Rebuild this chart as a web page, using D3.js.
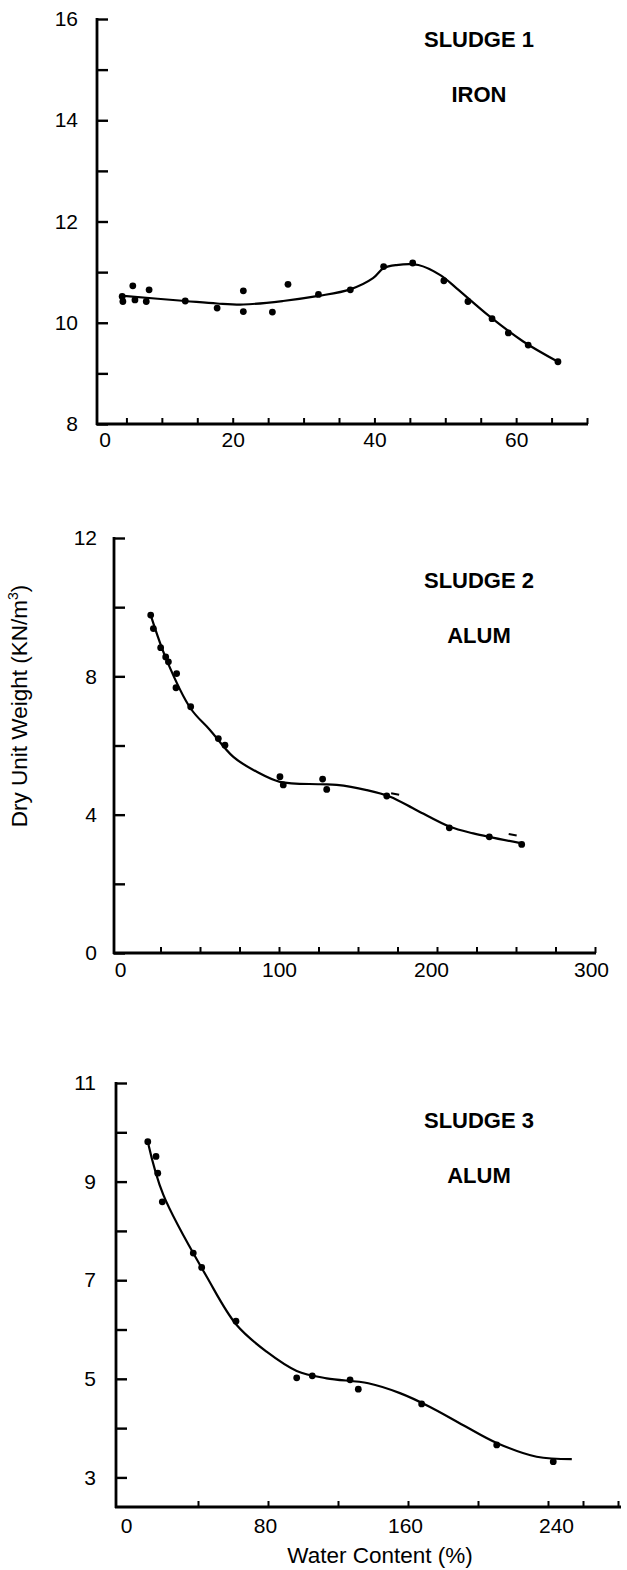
<!DOCTYPE html>
<html><head><meta charset="utf-8">
<script src="https://cdn.jsdelivr.net/npm/d3@7"></script>
<style>
body{margin:0;background:#fff}
svg{display:block}
text{font-family:"Liberation Sans",Arial,sans-serif;fill:#000}
</style></head><body>
<svg id="c" width="627" height="1570"></svg>
<script>
// ---------- SLUDGE 1 (IRON) ----------
const s1PointsX = [4.4, 4.5, 5.9, 6.2, 7.8, 8.2, 13.3, 17.8, 21.5, 21.5, 25.6, 27.8, 32.1, 36.6, 41.3, 45.4, 49.8, 53.2, 56.6, 58.9, 61.7, 65.9];
const s1PointsY = [10.52, 10.42, 10.73, 10.45, 10.42, 10.65, 10.43, 10.29, 10.63, 10.22, 10.21, 10.76, 10.56, 10.65, 11.11, 11.18, 10.83, 10.42, 10.08, 9.80, 9.56, 9.23];
const s1CurveX = [4.6, 13.3, 17.8, 21.5, 27.1, 32.1, 36.6, 39.8, 41.3, 43.1, 46.2, 49.3, 51.6, 56.3, 61.0, 65.9];
const s1CurveY = [10.53, 10.43, 10.38, 10.36, 10.43, 10.53, 10.66, 10.88, 11.08, 11.14, 11.14, 10.94, 10.68, 10.12, 9.63, 9.23];
const s1YTicks = [8, 9, 10, 11, 12, 13, 14, 15, 16];
const s1YLabels = [8, 10, 12, 14, 16];
const s1XTicks = [5, 10, 15, 20, 25, 30, 35, 40, 45, 50, 55, 60, 65, 70];
const s1XLabels = [0, 20, 40, 60];

// ---------- SLUDGE 2 (ALUM) ----------
const s2PointsX = [18.8, 20.5, 25.1, 28.3, 30.0, 35.2, 34.8, 44.1, 61.6, 65.8, 100.6, 102.7, 127.6, 130.2, 168.2, 207.8, 233.1, 253.6];
const s2PointsY = [9.77, 9.38, 8.83, 8.56, 8.42, 8.08, 7.67, 7.12, 6.20, 6.01, 5.10, 4.86, 5.03, 4.73, 4.54, 3.62, 3.36, 3.14];
const s2DashX = [173.5, 247.9];
const s2DashY = [4.62, 3.44];
const s2CurveX = [18.8, 28.9, 44.1, 56.3, 71.1, 85.9, 100.6, 125.9, 136.5, 155.5, 170.3, 187.1, 208.2, 223.0, 253.6];
const s2CurveY = [9.77, 8.47, 7.07, 6.45, 5.67, 5.24, 4.95, 4.88, 4.86, 4.71, 4.52, 4.13, 3.65, 3.46, 3.17];
const s2YTicks = [0, 2, 4, 6, 8, 10, 12];
const s2YLabels = [0, 4, 8, 12];
const s2XTicks = [25, 50, 75, 100, 125, 150, 175, 200, 225, 250, 275, 300];
const s2XLabels = [0, 100, 200, 300];

// ---------- SLUDGE 3 (ALUM) ----------
const s3PointsX = [11.3, 16.0, 17.0, 19.6, 37.3, 42.1, 61.7, 96.4, 105.3, 126.9, 131.6, 167.8, 210.7, 243.0];
const s3PointsY = [9.81, 9.51, 9.17, 8.59, 7.55, 7.26, 6.17, 5.02, 5.06, 4.98, 4.79, 4.49, 3.66, 3.32];
const s3CurveX = [11.3, 20.2, 45.0, 62.1, 79.2, 96.4, 113.5, 137.3, 155.4, 172.6, 191.6, 210.7, 233.5, 253.6];
const s3CurveY = [9.81, 8.73, 7.07, 6.09, 5.55, 5.16, 5.01, 4.91, 4.71, 4.43, 4.06, 3.70, 3.42, 3.37];
const s3YTicks = [3, 4, 5, 6, 7, 8, 9, 10, 11];
const s3YLabels = [3, 5, 7, 9, 11];
const s3XTicks = [40, 80, 120, 160, 200, 240, 260, 280];
const s3XLabels = [0, 80, 160, 240];

const titles = [["SLUDGE 1", "IRON"], ["SLUDGE 2", "ALUM"], ["SLUDGE 3", "ALUM"]];
const xTitle = "Water Content (%)";
const yTitle = "Dry Unit Weight (KN/m";

const svg = d3.select("#c");
const TICK_FS = 21, TITLE_FS = 22, AXIS_FS = 22.5;

const panels = [
  {px: s1PointsX, py: s1PointsY, cx: s1CurveX, cy: s1CurveY, yT: s1YTicks, yL: s1YLabels, xT: s1XTicks, xL: s1XLabels,
   dx: [], dy: [],
   xd: [0, 70], xr: [91, 587], yd: [8, 16], yr: [424, 19], axX: 97, axY: 424, xEnd: 588,
   shift: {0: 13.5}, yPad: 19, xPad: 8, title: titles[0], tY: 47, t2Y: 102},
  {px: s2PointsX, py: s2PointsY, cx: s2CurveX, cy: s2CurveY, yT: s2YTicks, yL: s2YLabels, xT: s2XTicks, xL: s2XLabels,
   dx: s2DashX, dy: s2DashY,
   xd: [0, 300], xr: [121, 595], yd: [0, 12], yr: [953, 538], axX: 114, axY: 953, xEnd: 596,
   shift: {0: -1, 200: -6, 300: -4}, yPad: 17, xPad: 9, title: titles[1], tY: 588, t2Y: 643},
  {px: s3PointsX, py: s3PointsY, cx: s3CurveX, cy: s3CurveY, yT: s3YTicks, yL: s3YLabels, xT: s3XTicks, xL: s3XLabels,
   dx: [], dy: [],
   xd: [0, 280], xr: [128, 618], yd: [2.4, 11], yr: [1507, 1083], axX: 116, axY: 1507, xEnd: 621,
   shift: {0: -2, 80: -3, 160: -3, 240: 8}, yPad: 20, xPad: 11, title: titles[2], tY: 1128, t2Y: 1183}
];

panels.forEach(p => {
  const x = d3.scaleLinear().domain(p.xd).range(p.xr);
  const y = d3.scaleLinear().domain(p.yd).range(p.yr);
  const g = svg.append("g");

  // y axis (ticks pointing inward)
  const gy = g.append("g").attr("transform", `translate(${p.axX},0)`)
    .call(d3.axisLeft(y).tickValues(p.yT).tickSizeInner(-11).tickSizeOuter(0).tickPadding(p.yPad)
      .tickFormat(d => p.yL.includes(d) ? d : ""));
  gy.select(".domain").remove();
  gy.selectAll(".tick line").attr("stroke", "#000").attr("stroke-width", 2.4);
  gy.selectAll(".tick text").attr("font-size", TICK_FS).attr("font-family", "Liberation Sans, Arial, sans-serif");
  g.append("line").attr("x1", p.axX).attr("x2", p.axX).attr("y1", y(p.yd[1]) - 1).attr("y2", p.axY + 1)
    .attr("stroke", "#000").attr("stroke-width", 2.8);

  // x axis small inward ticks
  const gx = g.append("g").attr("transform", `translate(0,${p.axY})`)
    .call(d3.axisBottom(x).tickValues(p.xT).tickSizeInner(-6).tickSizeOuter(0).tickFormat(""));
  gx.select(".domain").remove();
  gx.selectAll(".tick line").attr("stroke", "#000").attr("stroke-width", 2);
  // x axis labels (hand-typed labels sit slightly off their ticks)
  const gxl = g.append("g").attr("transform", `translate(0,${p.axY})`)
    .call(d3.axisBottom(x).tickValues(p.xL).tickSize(0).tickPadding(p.xPad));
  gxl.select(".domain").remove();
  gxl.selectAll(".tick text").attr("font-size", TICK_FS).attr("font-family", "Liberation Sans, Arial, sans-serif")
    .attr("dx", d => p.shift[d] || 0);
  g.append("line").attr("x1", p.axX - 1).attr("x2", p.xEnd).attr("y1", p.axY).attr("y2", p.axY)
    .attr("stroke", "#000").attr("stroke-width", 2.8);

  // fitted curve
  const line = d3.line().x(d => x(d[0])).y(d => y(d[1])).curve(d3.curveCatmullRom.alpha(0.5));
  g.append("path").datum(p.cx.map((v, i) => [v, p.cy[i]])).attr("d", line)
    .attr("fill", "none").attr("stroke", "#000").attr("stroke-width", 2.2).attr("stroke-linejoin", "round");

  // data points
  g.selectAll("circle.pt").data(p.px.map((v, i) => [v, p.py[i]])).join("circle")
    .attr("class", "pt").attr("cx", d => x(d[0])).attr("cy", d => y(d[1])).attr("r", 3.4).attr("fill", "#000");

  // dash-type marks
  g.selectAll("line.dash").data(p.dx.map((v, i) => [v, p.dy[i]])).join("line")
    .attr("class", "dash").attr("x1", d => x(d[0]) - 4).attr("x2", d => x(d[0]) + 4)
    .attr("y1", d => y(d[1])).attr("y2", d => y(d[1]) + 1.5)
    .attr("stroke", "#000").attr("stroke-width", 2);

  // panel titles
  g.append("text").attr("x", 479).attr("y", p.tY).attr("text-anchor", "middle")
    .attr("font-size", TITLE_FS).attr("font-weight", "bold").text(p.title[0]);
  g.append("text").attr("x", 479).attr("y", p.t2Y).attr("text-anchor", "middle")
    .attr("font-size", TITLE_FS).attr("font-weight", "bold").text(p.title[1]);
});

// axis titles
svg.append("text").attr("x", 380).attr("y", 1563).attr("text-anchor", "middle").attr("font-size", AXIS_FS).text(xTitle);
const yt = svg.append("text").attr("transform", "translate(27,706) rotate(-90)").attr("text-anchor", "middle").attr("font-size", AXIS_FS);
yt.append("tspan").text(yTitle);
yt.append("tspan").attr("dy", -9).attr("font-size", 14).text("3");
yt.append("tspan").attr("dy", 9).text(")");
</script></body></html>
